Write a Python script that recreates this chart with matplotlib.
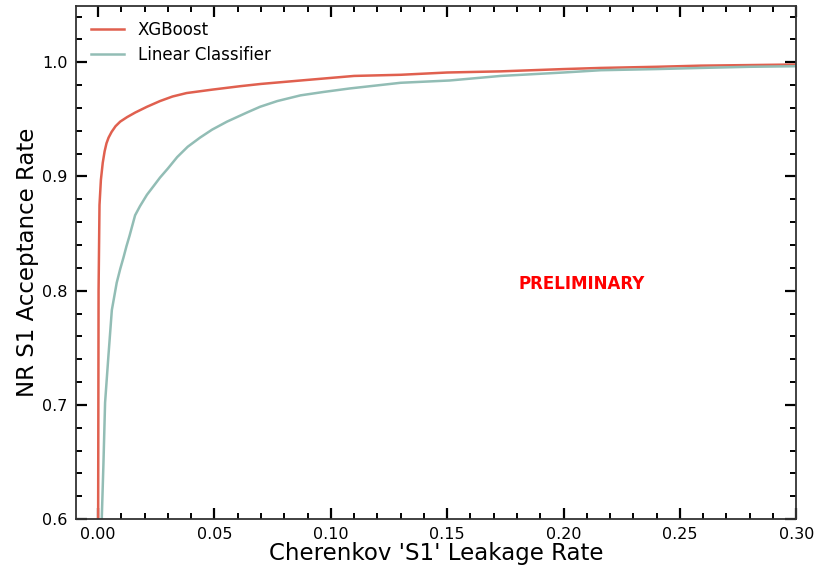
import matplotlib
matplotlib.use("Agg")
import matplotlib.pyplot as plt
from matplotlib.ticker import MultipleLocator

# ROC-style curves (leakage rate, acceptance rate)
xgb_leak = [0.0, 0.0002, 0.0006, 0.0012, 0.002, 0.0028, 0.0036, 0.0045, 0.0058,
            0.0075, 0.0095, 0.0125, 0.016, 0.021, 0.0266, 0.032, 0.038, 0.049,
            0.061, 0.070, 0.087, 0.11, 0.13, 0.15, 0.173, 0.20, 0.216, 0.24,
            0.259, 0.28, 0.30]
xgb_acc = [0.58, 0.80, 0.875, 0.897, 0.912, 0.922, 0.929, 0.934, 0.939,
           0.944, 0.948, 0.952, 0.956, 0.961, 0.966, 0.970, 0.973, 0.976,
           0.979, 0.981, 0.984, 0.988, 0.989, 0.991, 0.992, 0.994, 0.995, 0.996,
           0.997, 0.9975, 0.998]

lin_leak = [0.0015, 0.0016, 0.0023, 0.003, 0.0044, 0.0059, 0.008, 0.0095, 0.0109,
            0.0122, 0.0135, 0.0159, 0.018, 0.021, 0.024, 0.0266, 0.030, 0.034,
            0.0385, 0.0438, 0.049, 0.0554, 0.064, 0.0696, 0.077, 0.087, 0.097,
            0.108, 0.13, 0.151, 0.173, 0.20, 0.216, 0.24, 0.259, 0.28, 0.30]
lin_acc = [0.58, 0.602, 0.649, 0.702, 0.742, 0.783, 0.807, 0.819, 0.829,
           0.839, 0.848, 0.866, 0.874, 0.884, 0.892, 0.899, 0.907, 0.917,
           0.926, 0.934, 0.941, 0.948, 0.956, 0.961, 0.966, 0.971, 0.974,
           0.977, 0.982, 0.984, 0.988, 0.991, 0.993, 0.994, 0.995, 0.996, 0.9965]

fig = plt.figure(figsize=(8.26, 5.68), dpi=100)
ax = fig.add_axes([0.092, 0.086, 0.872, 0.903])

ax.plot(xgb_leak, xgb_acc, color="#e0604f", lw=1.8, label="XGBoost")
ax.plot(lin_leak, lin_acc, color="#92bdb5", lw=1.8, label="Linear Classifier")

ax.set_xlim(-0.0095, 0.30)
ax.set_ylim(0.6, 1.049)
ax.xaxis.set_major_locator(MultipleLocator(0.05))
ax.xaxis.set_minor_locator(MultipleLocator(0.01))
ax.yaxis.set_major_locator(MultipleLocator(0.1))
ax.yaxis.set_minor_locator(MultipleLocator(0.02))
ax.xaxis.set_major_formatter(plt.FormatStrFormatter("%.2f"))
ax.yaxis.set_major_formatter(plt.FormatStrFormatter("%.1f"))

ax.tick_params(which="both", direction="in", top=True, right=True,
               labelsize=11.5, color="black")
ax.tick_params(which="major", length=8, width=1.6, pad=6)
ax.tick_params(which="minor", length=4.5, width=1.4)
for s in ax.spines.values():
    s.set_color("#333333")
    s.set_linewidth(1.3)

ax.set_xlabel("Cherenkov 'S1' Leakage Rate", fontsize=16.5, labelpad=0)
ax.set_ylabel("NR S1 Acceptance Rate", fontsize=16.5, labelpad=2)

ax.text(0.208, 0.806, "PRELIMINARY", color="red", fontsize=12,
        fontweight="bold", ha="center", va="center")

ax.legend(loc="upper left", frameon=False, fontsize=12,
          handlelength=2.0, borderaxespad=0.5, labelspacing=0.4)

fig.savefig("out.png", dpi=100)
